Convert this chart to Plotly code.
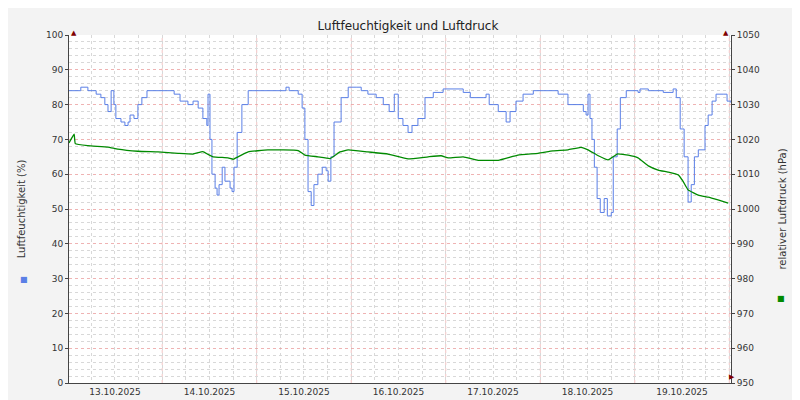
import plotly.graph_objects as go
from datetime import datetime, timedelta

start = datetime(2025, 10, 13, 0, 20)
end = start + timedelta(hours=168.1)

hum_h = [0,3,4.8,6.9,8.1,9.1,9.9,10.7,11.4,11.9,13.2,14.2,15,15.5,16.5,17.5,18.5,19.8,25.1,26.7,28.2,30.2,31.5,32.8,34,35,35.3,35.8,36.3,37.1,37.6,38.1,38.9,39.6,40.9,41.4,41.9,42.7,43.9,45.5,54.6,55.1,55.9,58.2,59.2,59.9,60.7,61.5,62.2,63.2,64.3,65.3,65.8,66.5,67.3,69.1,70.9,72.9,74.2,75.9,78,79.8,81.3,82.6,83.6,84.8,86.1,87.1,88.6,90.4,92.5,95,100.1,101.9,105.2,105.9,106.7,107.7,109,111,112,113.5,115.3,117.9,120.4,124.2,126.7,130.6,131.3,131.8,132.3,132.8,133.4,134.1,134.9,135.9,136.7,137.7,138.2,139.2,140,141.5,144.5,145,147.1,150.9,153.4,154.2,155.2,156.2,157.2,158,158.8,159.8,161.5,162.3,163.3,164.3,166.1,167.1,168.1]
hum_v = [84,85,84,83,82,80,78,84,80,76,75,74,75,77,76,80,82,84,84,83,81,80,81,79,76,74,83,70,60,56,54,57,62,58,56,55,62,72,80,84,84,85,84,83,79,70,55,51,57,60,62,61,58,65,75,82,85,85,84,83,82,80,78,83,76,74,72,74,76,82,83.5,84.5,83.5,82,82,83,80,80,78,75,78,81,83,84,84,83,80,78,77,83,76,70,62,53,49,53,48,49,65,73,82,84,83.5,84.5,84,83.5,84.5,82,73,65,52,57,65,67,74,77,81,83,83,81,80.5]

pres_h = [0,1.3,1.6,4.8,9.9,12.4,17.5,22.6,27.7,31.5,34,35.3,36.6,40.4,41.7,42.9,45.5,50.5,58.2,59.9,63.2,66.3,68.8,70.9,75.9,81,86.1,91.2,94.5,96.3,100.1,103.9,109,114,119.1,122.9,126.7,130,131.8,134.4,136.9,139.2,142,144.5,147.1,149.6,152.1,154.7,155.9,157.2,159.8,162.3,164.8,167.4]
pres_v = [1019,1021.5,1018.8,1018.2,1017.8,1017.2,1016.6,1016.4,1016,1015.8,1016.5,1015.7,1015,1014.7,1014.3,1015,1016.4,1017,1016.8,1015.5,1015,1014.5,1016.4,1017,1016.4,1015.8,1014.4,1015,1015.3,1014.7,1015,1014,1014,1015.5,1016,1016.7,1017,1017.7,1017,1015.3,1014.1,1015.8,1015.5,1014.7,1012.4,1011.2,1010.6,1009.8,1008,1005.5,1004,1003.4,1002.6,1001.7]

day_labels = ["13.10.2025","14.10.2025","15.10.2025","16.10.2025","17.10.2025","18.10.2025","19.10.2025"]
day0 = datetime(2025, 10, 13)
label_pos = [day0 + timedelta(days=i, hours=12) for i in range(len(day_labels))]

hum_t = [start + timedelta(hours=h) for h in hum_h]
pres_t = [start + timedelta(hours=h) for h in pres_h]

L, R, T, B = 61, 77, 27, 25
PW, PH = 800 - L - R, 400 - T - B
def px(x): return (x - L) / PW
def py(y): return 1 - (y - T) / PH

font = "DejaVu Sans"
fig = go.Figure()
fig.add_trace(go.Scatter(x=hum_t, y=hum_v, mode="lines", line=dict(color="#5a7fe6", width=1, shape="hv"), yaxis="y"))
fig.add_trace(go.Scatter(x=pres_t, y=pres_v, mode="lines", line=dict(color="#008a00", width=1.3, shape="spline", smoothing=0.3), yaxis="y2"))

shapes = []
for i in range(1, 8):
    shapes.append(dict(type="line", xref="x", yref="paper", x0=day0 + timedelta(days=i), x1=day0 + timedelta(days=i), y0=0, y1=1,
                       line=dict(color="rgba(235,170,170,0.7)", width=1, dash="dot"), layer="below"))

fig.update_layout(
    width=800, height=400, margin=dict(l=L, r=R, t=T, b=B, autoexpand=False),
    paper_bgcolor="#f3f3f3", plot_bgcolor="white", showlegend=False,
    font=dict(family=font, size=9, color="#333"),
    title=dict(text="Luftfeuchtigkeit und Luftdruck", x=0.5, xanchor="center", y=0.955, yanchor="middle", font=dict(size=12, color="#222")),
    xaxis=dict(range=[start, end], tickvals=label_pos, ticktext=day_labels, showgrid=False, ticks="", showline=True,
               linecolor="#444", zeroline=False, tickfont=dict(size=9), automargin=False,
               minor=dict(dtick=6*3600*1000, tick0=day0, showgrid=True, gridcolor="#d8d8d8", griddash="dot", gridwidth=1)),
    yaxis=dict(range=[0, 100], dtick=10, showgrid=True, gridcolor="rgba(235,160,160,0.8)", griddash="dot", showline=True, linecolor="#444",
               ticks="outside", ticklen=3, zeroline=False, automargin=False,
               title=dict(text="Luftfeuchtigkeit (%)", font=dict(size=10), standoff=18),
               minor=dict(dtick=2, showgrid=True, gridcolor="#d8d8d8", griddash="dot")),
    yaxis2=dict(range=[950, 1050], dtick=10, overlaying="y", side="right", showgrid=False, showline=True, linecolor="#444",
                ticks="outside", ticklen=3, zeroline=False, automargin=False,
                title=dict(text="relativer Luftdruck (hPa)", font=dict(size=10), standoff=20)),
    shapes=shapes,
)
fig.add_annotation(text="■", x=px(10), y=py(278), xref="paper", yref="paper", showarrow=False, font=dict(color="#5a7fe6", size=8))
fig.add_annotation(text="■", x=px(779), y=py(297), xref="paper", yref="paper", showarrow=False, font=dict(color="#008a00", size=8))
fig.add_annotation(text="RRDTOOL / TOBI OETIKER", x=px(792), y=py(22), xref="paper", yref="paper", xanchor="center", yanchor="top",
                   textangle=90, showarrow=False, font=dict(size=7, color="#bbb"))
for xx in [0, 1]:
    fig.add_annotation(text="▲", x=xx, y=1, xref="paper", yref="paper", yanchor="bottom", showarrow=False, font=dict(color="#800000", size=7), yshift=-4)
fig.add_annotation(text="▶", x=1, y=0, xref="paper", yref="paper", xanchor="left", showarrow=False, font=dict(color="#800000", size=7), xshift=-4)
fig.write_html("out.html")
